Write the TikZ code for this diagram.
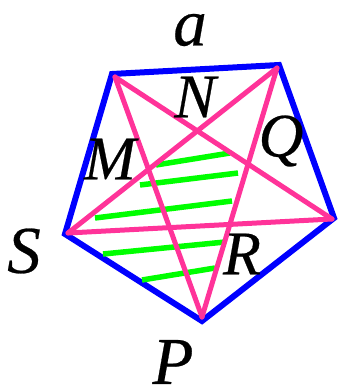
\documentclass[tikz,border=0pt]{standalone}
\usepackage{fontspec}
\setmainfont{Liberation Serif}[ItalicFeatures={FakeBold=0.4}]
\definecolor{pentblue}{RGB}{0,0,255}
\definecolor{starpink}{RGB}{255,51,153}
\definecolor{hatchgreen}{RGB}{0,255,0}
\begin{document}
\begin{tikzpicture}[x=1pt,y=-1pt,
  edge/.style={pentblue,line width=6pt,line join=miter},
  starline/.style={starpink,line width=5pt,line cap=round},
  hatch/.style={hatchgreen,line width=5.5pt},
  lbl/.style={inner sep=0pt,font=\fontsize{67}{67}\selectfont\itshape},
  lblsmall/.style={inner sep=0pt,font=\fontsize{62}{62}\selectfont\itshape}]
\useasboundingbox (0,0) rectangle (339,391);
% pentagon vertices
\coordinate (B1) at (112,74);
\coordinate (B2) at (279,65);
\coordinate (B3) at (334,218);
\coordinate (B4) at (202,321);
\coordinate (B5) at (65,234);
% star vertices
\coordinate (P1) at (115,77);
\coordinate (P2) at (277,68);
\coordinate (P3) at (332,219);
\coordinate (P4) at (202,317);
\coordinate (P5) at (68,233);
\draw[edge] (B1) -- (B2) -- (B3) -- (B4) -- (B5) -- cycle;
% hatch lines
\coordinate (h1a) at (156,165); \coordinate (h1b) at (230,153);
\coordinate (h2a) at (140,185); \coordinate (h2b) at (238,173);
\coordinate (h3a) at (95,218);  \coordinate (h3b) at (232,201);
\coordinate (h4a) at (103,254); \coordinate (h4b) at (225,242);
\coordinate (h5a) at (142,280); \coordinate (h5b) at (215,268);
\draw[hatch] (h1a) -- (h1b);
\draw[hatch] (h2a) -- (h2b);
\draw[hatch] (h3a) -- (h3b);
\draw[hatch] (h4a) -- (h4b);
\draw[hatch] (h5a) -- (h5b);
% star
\draw[starline] (P1) -- (P4);
\draw[starline] (P1) -- (P3);
\draw[starline] (P2) -- (P5);
\draw[starline] (P2) -- (P4);
\draw[starline] (P5) -- (P3);
% labels
\node[lbl] (la) at (190,30) {a};
\node[lblsmall] (lN) at (195,97) {N};
\node[lblsmall] (lM) at (110,159) {M};
\node[lblsmall] (lQ) at (281,141) {Q};
\node[lblsmall] (lR) at (242,254) {R};
\node[lbl] (lS) at (24,251) {S};
\node[lbl] (lP) at (173,362) {P};
\end{tikzpicture}
\end{document}
